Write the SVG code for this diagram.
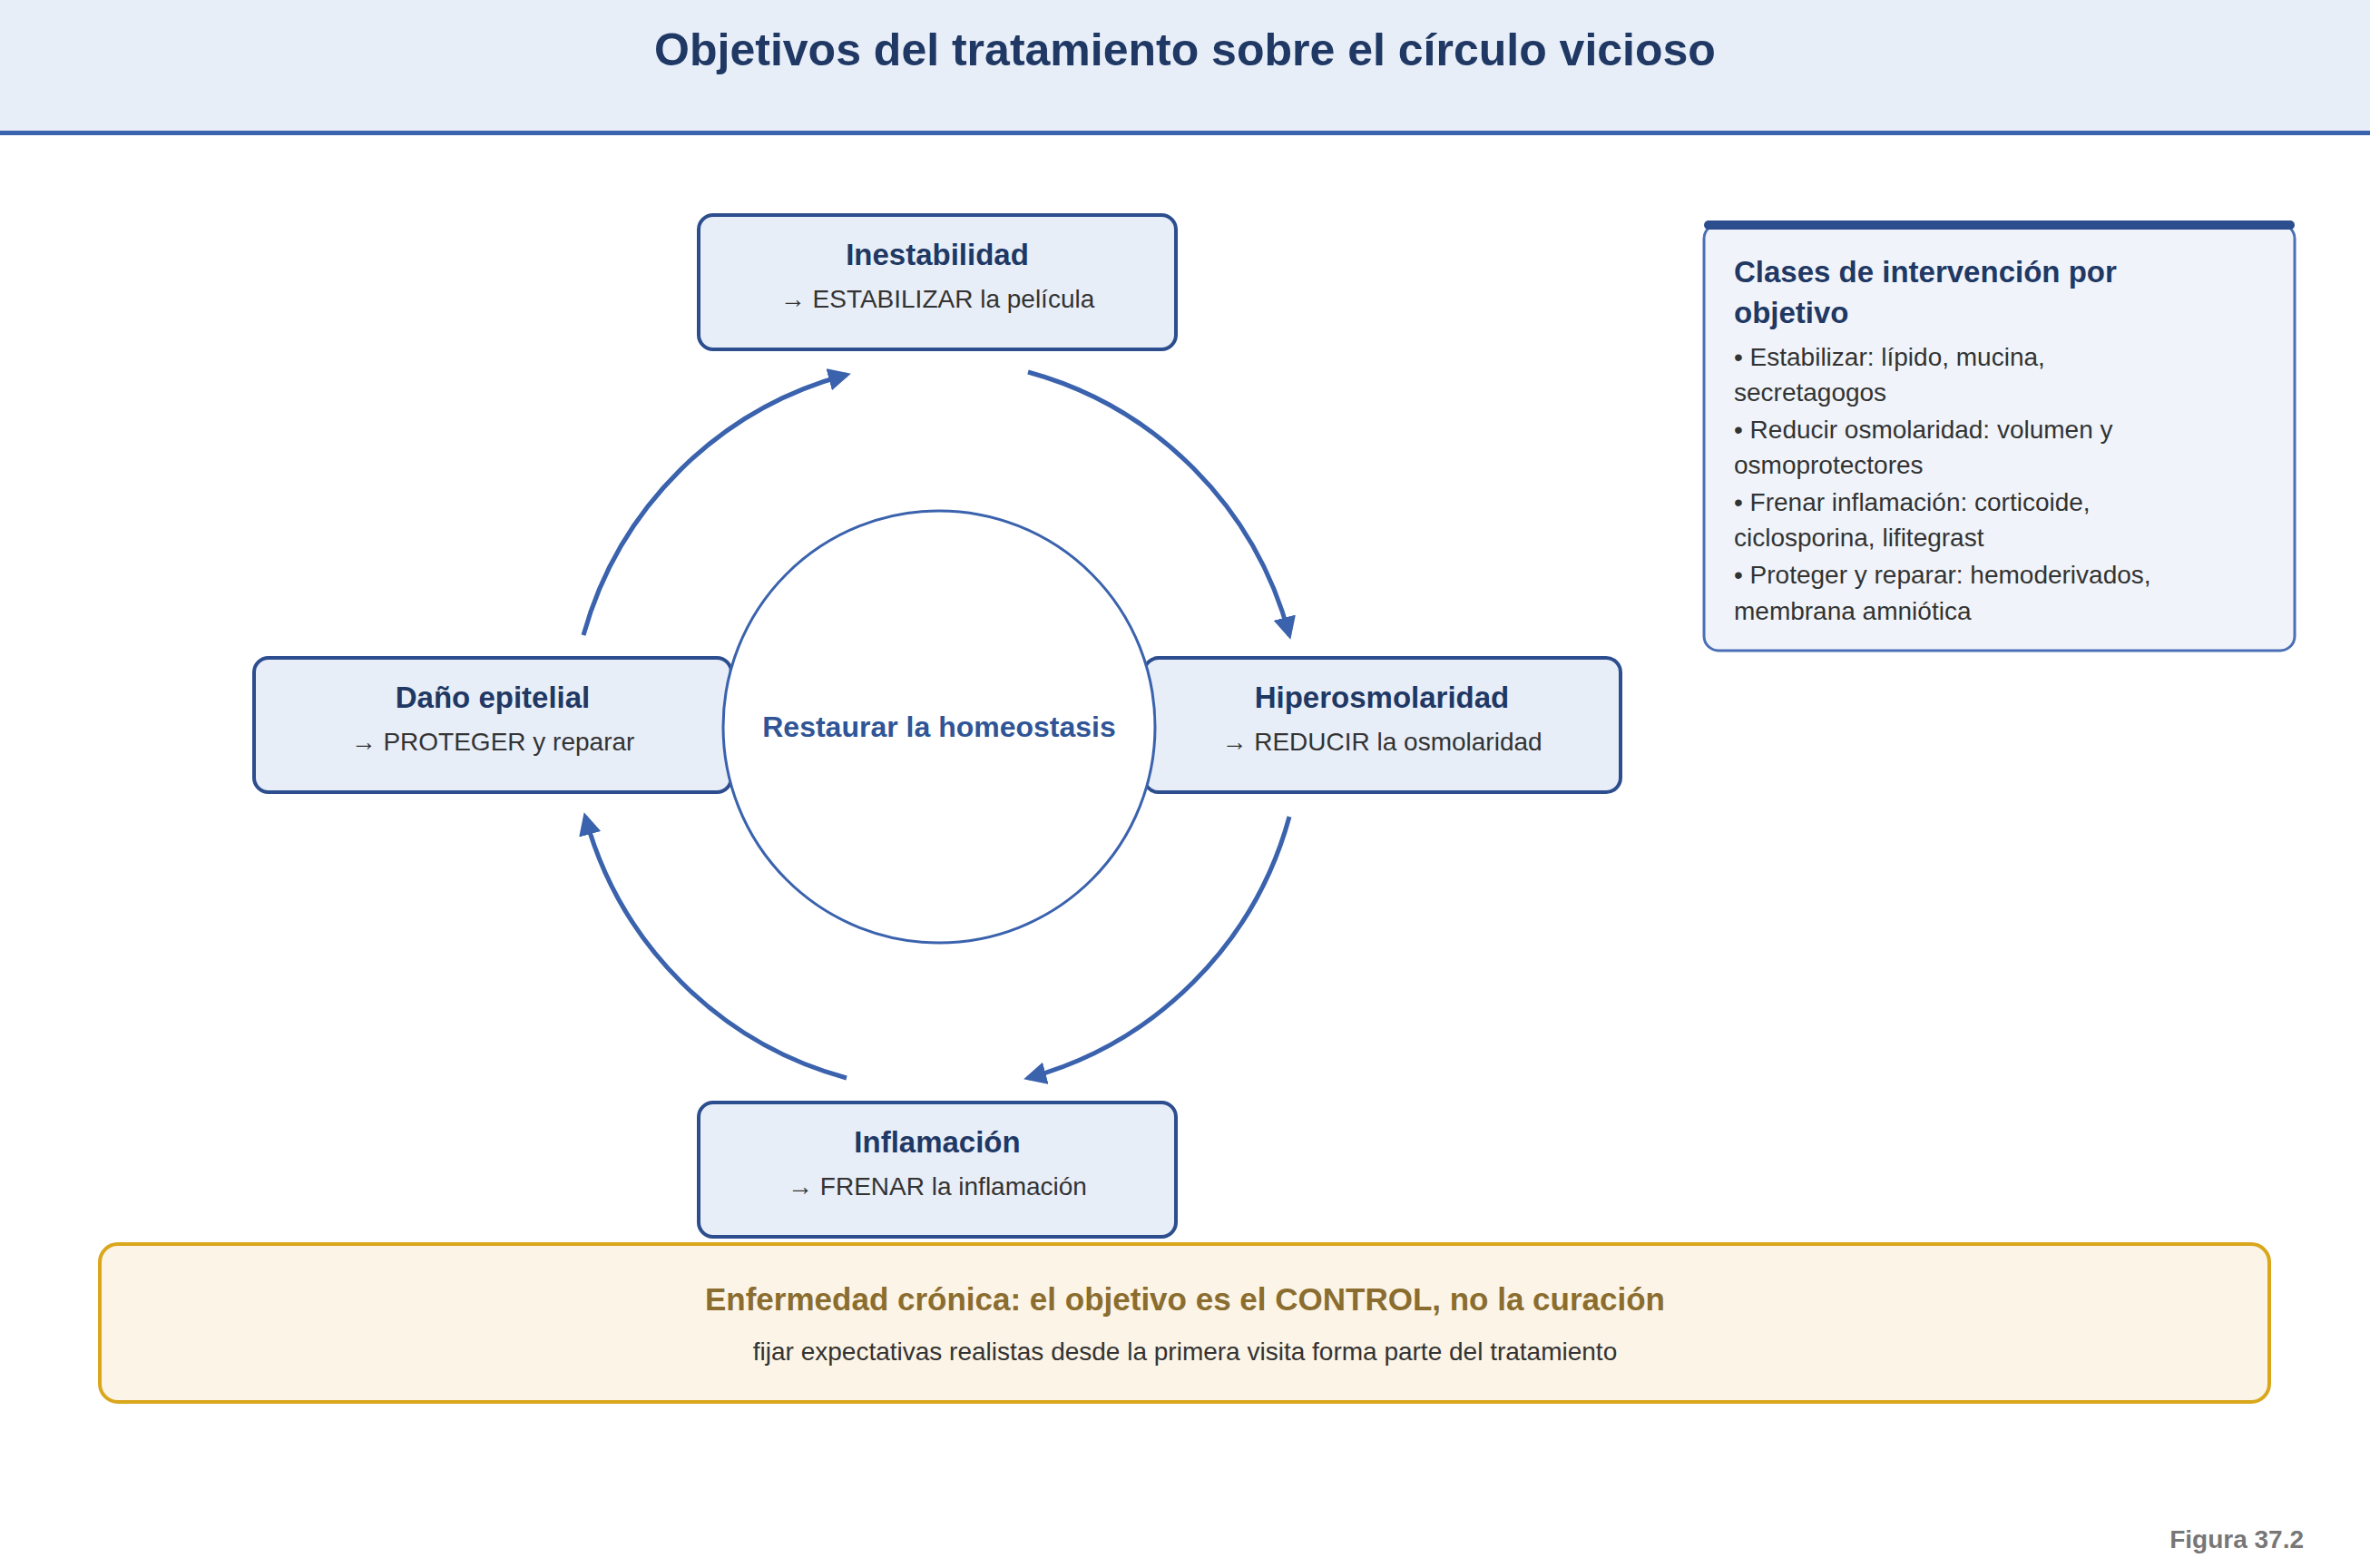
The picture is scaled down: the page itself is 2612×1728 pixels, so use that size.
<svg xmlns="http://www.w3.org/2000/svg" width="2612" height="1728" viewBox="0 0 2612 1728">
<defs>
<marker id="ah" viewBox="0 0 10 10" refX="8" refY="5" markerWidth="5" markerHeight="5" orient="auto" markerUnits="strokeWidth"><path d="M0,0 L10,5 L0,10 z" fill="#3a62ad"/></marker>
<style>
text{font-family:"Liberation Sans",Arial,sans-serif}
.node{fill:#e8eef8;stroke:#2c4d8e;stroke-width:4}
.nt{font-size:33px;font-weight:bold;fill:#1f3864;text-anchor:middle}
.ns{font-size:28px;fill:#333;text-anchor:middle}
.conn{fill:none;stroke:#3a62ad;stroke-width:5;marker-end:url(#ah)}
.bl{font-size:28px;fill:#333}
</style>
</defs>
<rect width="2612" height="1728" fill="#fff"/>
<rect x="0" y="0" width="2612" height="146" fill="#e8eef8"/>
<rect x="0" y="144" width="2612" height="5" fill="#3a62ad"/>
<text x="1306" y="72" text-anchor="middle" font-size="50" font-weight="bold" fill="#1f3864">Objetivos del tratamiento sobre el círculo vicioso</text>
<g id="connectors">
<path class="conn" d="M643,700 A410,410 0 0 1 933,413"/>
<path class="conn" d="M1133,410 A410,410 0 0 1 1421,700"/>
<path class="conn" d="M1421,900 A410,410 0 0 1 1133,1188"/>
<path class="conn" d="M933,1188 A410,410 0 0 1 645,900"/>
</g>
<g id="n-inestabilidad"><rect class="node" x="770" y="237" width="526" height="148" rx="16"/><text class="nt" x="1033" y="292">Inestabilidad</text><text class="ns" x="1033" y="339">→ ESTABILIZAR la película</text></g>
<g id="n-dano"><rect class="node" x="280" y="725" width="526" height="148" rx="16"/><text class="nt" x="543" y="780">Daño epitelial</text><text class="ns" x="543" y="827">→ PROTEGER y reparar</text></g>
<g id="n-hiper"><rect class="node" x="1261" y="725" width="525" height="148" rx="16"/><text class="nt" x="1523" y="780">Hiperosmolaridad</text><text class="ns" x="1523" y="827">→ REDUCIR la osmolaridad</text></g>
<g id="n-inflamacion"><rect class="node" x="770" y="1215" width="526" height="148" rx="16"/><text class="nt" x="1033" y="1270">Inflamación</text><text class="ns" x="1033" y="1317">→ FRENAR la inflamación</text></g>
<g id="n-centro"><circle cx="1035" cy="801" r="238" fill="#fff" stroke="#3a62ad" stroke-width="3"/><text x="1035" y="812" text-anchor="middle" font-size="32" font-weight="bold" fill="#2f5597">Restaurar la homeostasis</text></g>
<g id="panel">
<rect x="1878" y="247" width="651" height="470" rx="16" fill="#f0f4fa" stroke="#4a6fb5" stroke-width="3"/>
<rect x="1878" y="243" width="651" height="10" rx="5" fill="#2c4d8e"/>
<text x="1911" y="311" font-size="33" font-weight="bold" fill="#1f3864">Clases de intervención por</text>
<text x="1911" y="356" font-size="33" font-weight="bold" fill="#1f3864">objetivo</text>
<text class="bl" x="1911" y="403">• Estabilizar: lípido, mucina,</text>
<text class="bl" x="1911" y="442">secretagogos</text>
<text class="bl" x="1911" y="483">• Reducir osmolaridad: volumen y</text>
<text class="bl" x="1911" y="522">osmoprotectores</text>
<text class="bl" x="1911" y="563">• Frenar inflamación: corticoide,</text>
<text class="bl" x="1911" y="602">ciclosporina, lifitegrast</text>
<text class="bl" x="1911" y="643">• Proteger y reparar: hemoderivados,</text>
<text class="bl" x="1911" y="683">membrana amniótica</text>
</g>
<g id="nota">
<rect x="110" y="1371" width="2391" height="174" rx="20" fill="#fcf4e6" stroke="#d9a61c" stroke-width="4"/>
<text x="1306" y="1444" text-anchor="middle" font-size="35" font-weight="bold" fill="#8a6d2f">Enfermedad crónica: el objetivo es el CONTROL, no la curación</text>
<text x="1306" y="1499" text-anchor="middle" font-size="28" fill="#333">fijar expectativas realistas desde la primera visita forma parte del tratamiento</text>
</g>
<text x="2539" y="1706" text-anchor="end" font-size="28" font-weight="bold" fill="#777">Figura 37.2</text>
</svg>
